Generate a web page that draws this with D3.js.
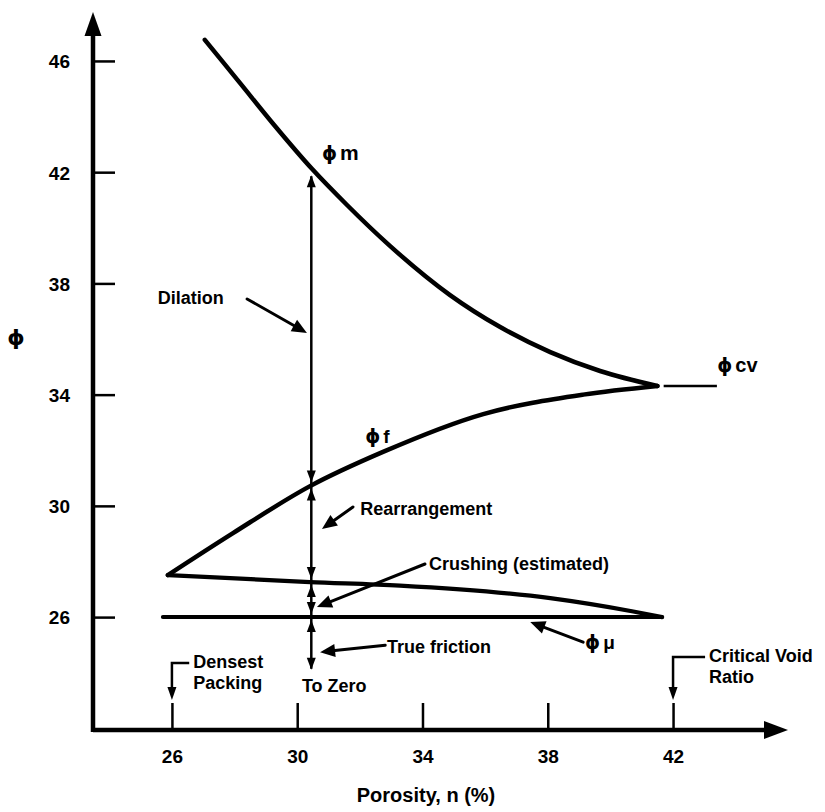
<!DOCTYPE html>
<html>
<head>
<meta charset="utf-8">
<script src="https://cdn.jsdelivr.net/npm/d3@7"></script>
<style>
  html, body { margin: 0; padding: 0; background: #fff; }
  svg { display: block; }
  text { font-family: "Liberation Sans", Arial, Helvetica, sans-serif; font-weight: bold; fill: #000; }
  .phi { font-family: "DejaVu Sans", sans-serif; }
</style>
</head>
<body>
<svg id="chart" width="825" height="812"></svg>
<script>
// ---------- data ----------
const xTicks = [26, 30, 34, 38, 42];
const yTicks = [26, 30, 34, 38, 42, 46];

const phiM_n   = [27.05, 28.17, 29.29, 30.47, 31.59, 32.96, 34.88, 36.48, 38.08, 39.67, 41.5];
const phiM_phi = [46.76, 45.21, 43.66, 42.12, 40.82, 39.35, 37.58, 36.43, 35.53, 34.85, 34.31];

const phiF_n   = [25.87, 27.95, 30.41, 32.74, 35.94, 39.13, 41.5];
const phiF_phi = [27.51, 29.02, 30.71, 31.94, 33.30, 34.00, 34.31];

const crush_n   = [25.87, 30.41, 33.28, 38.08, 40.73, 41.65];
const crush_phi = [27.51, 27.26, 27.13, 26.68, 26.20, 26.0];

const phiMu_n   = [25.71, 41.65];
const phiMu_phi = [26.0, 26.0];

const phiCV_n   = [41.7, 43.4];
const phiCV_phi = [34.31, 34.31];

// vertical decomposition line at n = 30.45
const decompN = 30.45;
const decompLevels = [42.0, 30.73, 27.26, 26.0, 24.0];

// annotation arrows [fromN, fromPhi, toN, toPhi]
const annotArrows = [
  [28.40, 37.44, 30.31, 36.22],   // Dilation
  [31.78, 29.96, 30.79, 29.17],   // Rearrangement
  [34.08, 27.91, 30.63, 26.36],   // Crushing
  [32.81, 24.99, 30.73, 24.74],   // True friction
  [39.13, 25.10, 37.44, 25.82]    // phi mu
];
const annotLabels = [
  ["Dilation", 25.55, 37.26],
  ["Rearrangement", 32.01, 29.67],
  ["Crushing (estimated)", 34.21, 27.69],
  ["True friction", 32.87, 24.71],
  ["To Zero", 30.15, 23.30]
];
// bracket markers on the x axis: [n, label line1, line2, text n]
const brackets = [
  [26, "Densest", "Packing", 26.68],
  [42, "Critical Void", "Ratio", 43.15]
];

// ---------- scales ----------
const svg = d3.select("#chart");
const x = d3.scaleLinear().domain([23.48, 45.67]).range([93, 788]);
const y = d3.scaleLinear().domain([21.94, 47.76]).range([730, 12]);

const [x0, x1] = x.range();
const [y0, y1] = y.range();

function arrowHead(g, tx, ty, dx, dy, len, hw) {
  const L = Math.hypot(dx, dy); dx /= L; dy /= L;
  const bx = tx - dx * len, by = ty - dy * len;
  const px = -dy, py = dx;
  g.append("path")
    .attr("d", `M${tx},${ty}L${bx + px*hw},${by + py*hw}L${bx - px*hw},${by - py*hw}Z`)
    .attr("fill", "#000");
}

// ---------- axes ----------
const axisG = svg.append("g");
axisG.append("line").attr("x1", x0).attr("x2", x1 - 20).attr("y1", y0).attr("y2", y0)
  .attr("stroke", "#000").attr("stroke-width", 4.5);
axisG.append("line").attr("x1", x0).attr("x2", x0).attr("y1", y0 + 2).attr("y2", y1 + 20)
  .attr("stroke", "#000").attr("stroke-width", 4.5);
arrowHead(axisG, x1, y0, 1, 0, 24, 9);
arrowHead(axisG, x0, y1, 0, -1, 24, 8.5);

const yAxis = d3.axisLeft(y).tickValues(yTicks).tickSize(-22).tickPadding(23).tickFormat(d3.format("d"));
const yg = svg.append("g").attr("transform", `translate(${x0},0)`).call(yAxis);
yg.select(".domain").remove();
yg.selectAll(".tick line").attr("stroke", "#000").attr("stroke-width", 2.5);
yg.selectAll(".tick text").attr("font-size", 19).attr("font-family", null).attr("dy", "0.36em");

const xAxis = d3.axisBottom(x).tickValues(xTicks).tickSize(-27).tickPadding(20).tickFormat(d3.format("d"));
const xg = svg.append("g").attr("transform", `translate(0,${y0})`).call(xAxis);
xg.select(".domain").remove();
xg.selectAll(".tick line").attr("stroke", "#000").attr("stroke-width", 2.5);
xg.selectAll(".tick text").attr("font-size", 19).attr("font-family", null);

// axis titles
svg.append("text").attr("class", "phi").attr("x", 16).attr("y", 345).attr("text-anchor", "middle")
  .attr("font-size", 22).text("ϕ");
svg.append("text").attr("x", 426).attr("y", 802).attr("text-anchor", "middle")
  .attr("font-size", 20).text("Porosity, n (%)");

// ---------- curves ----------
const line = d3.line().x(d => x(d[0])).y(d => y(d[1])).curve(d3.curveMonotoneX);
const zip = (a, b) => a.map((v, i) => [v, b[i]]);
const curves = svg.append("g").attr("fill", "none").attr("stroke", "#000")
  .attr("stroke-linejoin", "round").attr("stroke-linecap", "round");
curves.append("path").attr("d", line(zip(phiM_n, phiM_phi))).attr("stroke-width", 4.5);
curves.append("path").attr("d", line(zip(phiF_n, phiF_phi))).attr("stroke-width", 4.5);
curves.append("path").attr("d", line(zip(crush_n, crush_phi))).attr("stroke-width", 4.2);
curves.append("path").attr("d", line(zip(phiMu_n, phiMu_phi))).attr("stroke-width", 4);
curves.append("path").attr("d", line(zip(phiCV_n, phiCV_phi))).attr("stroke-width", 2.5)
  .attr("stroke-linecap", "butt");

// ---------- vertical decomposition line ----------
const vg = svg.append("g");
const vx = x(decompN);
vg.append("line").attr("x1", vx).attr("x2", vx)
  .attr("y1", y(decompLevels[0]) + 4).attr("y2", y(decompLevels[decompLevels.length - 1]) - 4)
  .attr("stroke", "#000").attr("stroke-width", 2.5);
for (let i = 0; i < decompLevels.length - 1; i++) {
  const top = y(decompLevels[i]), bot = y(decompLevels[i + 1]);
  arrowHead(vg, vx, top + 3, 0, -1, 12, 4.5);
  arrowHead(vg, vx, bot - 3, 0, 1, 12, 4.5);
}

// ---------- annotation arrows ----------
const ag = svg.append("g");
annotArrows.forEach(a => {
  const fx = x(a[0]), fy = y(a[1]), tx = x(a[2]), ty = y(a[3]);
  const dx = tx - fx, dy = ty - fy, L = Math.hypot(dx, dy);
  ag.append("line").attr("x1", fx).attr("y1", fy)
    .attr("x2", tx - dx / L * 10).attr("y2", ty - dy / L * 10)
    .attr("stroke", "#000").attr("stroke-width", 3).attr("stroke-linecap", "round");
  arrowHead(ag, tx, ty, dx, dy, 15, 6.5);
});
annotLabels.forEach(l => {
  svg.append("text").attr("x", x(l[1])).attr("y", y(l[2])).attr("font-size", 18).text(l[0]);
});

// brackets at 26 and 42
const bg = svg.append("g");
brackets.forEach(b => {
  const bx = x(b[0]);
  const topY = y0 - 70 + (b[0] === 42 ? -6 : 0) + 3;
  const endX = x(b[3]) - 4;
  bg.append("path").attr("d", `M${endX},${topY}H${bx}V${y0 - 40}`)
    .attr("fill", "none").attr("stroke", "#000").attr("stroke-width", 2.5);
  arrowHead(bg, bx, y0 - 30, 0, 1, 13, 4.5);
  const t = svg.append("text").attr("x", x(b[3])).attr("font-size", 18);
  t.append("tspan").attr("x", x(b[3])).attr("y", topY + 5).text(b[1]);
  t.append("tspan").attr("x", x(b[3])).attr("y", topY + 26).text(b[2]);
});

// ---------- curve labels ----------
function phiLabel(n, phi, sub, subSize) {
  const t = svg.append("text").attr("x", x(n)).attr("y", y(phi)).attr("font-size", 19);
  t.append("tspan").attr("class", "phi").text("ϕ");
  t.append("tspan").attr("dx", 3).attr("font-size", subSize).text(sub);
}
phiLabel(30.79, 42.44, "m", 21);
phiLabel(32.17, 32.26, "f", 19);
phiLabel(43.41, 34.81, "cv", 20);
phiLabel(39.19, 24.84, "μ", 19);
</script>
</body>
</html>
